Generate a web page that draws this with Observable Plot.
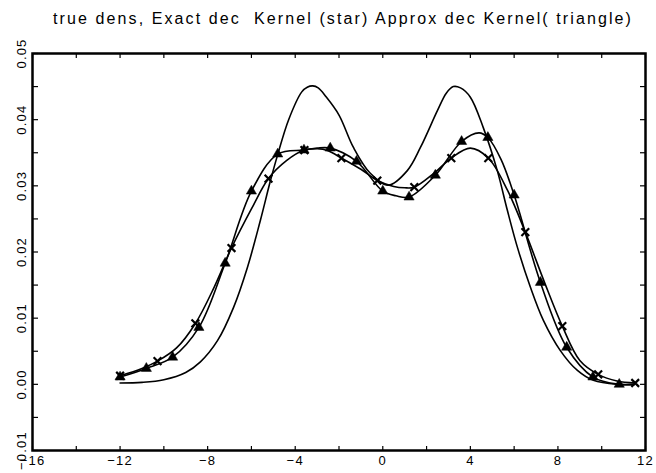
<!DOCTYPE html>
<html>
<head>
<meta charset="utf-8">
<script src="https://cdn.jsdelivr.net/npm/d3@7"></script>
<script src="https://cdn.jsdelivr.net/npm/@observablehq/plot@0.6"></script>
<style>
  html, body { margin: 0; padding: 0; background: white; }
</style>
</head>
<body>
<div id="chart"></div>
<script>
const titleText = "true dens, Exact dec  Kernel (star) Approx dec Kernel( triangle)";

// true density (plain line)
const trueX = [-12, -11, -10, -9, -8.33, -7.55, -6.82, -6.18, -5.59, -5.13, -4.81, -4.3, -3.7, -3.45, -3.2, -2.95, -2.6, -2.0, -1.34, -0.57, 0.26, 1.12, 1.72, 2.5, 2.9, 3.22, 3.55, 4.0, 4.59, 5.23, 5.69, 6.15, 6.74, 7.33, 8.11, 8.89, 9.62, 10.7, 11.5];
const trueY = [0.0002, 0.0003, 0.0007, 0.0018, 0.0034, 0.0066, 0.0116, 0.0177, 0.0248, 0.0308, 0.0346, 0.0400, 0.0442, 0.0449, 0.0451, 0.0448, 0.0435, 0.0407, 0.0358, 0.0319, 0.0301, 0.0323, 0.0358, 0.0414, 0.0440, 0.0450, 0.0448, 0.0434, 0.0388, 0.0323, 0.0263, 0.0207, 0.0147, 0.0097, 0.0051, 0.0021, 0.0006, 0.0000, 0.0000];

// exact deconvolution kernel (star) line
const starX = [-12, -11, -10.29, -9.42, -8.56, -7.7, -6.91, -6.0, -5.22, -4.4, -3.58, -3.0, -2.5, -1.89, -1.0, -0.25, 0.5, 1.0, 1.44, 2.3, 3.13, 4.0, 4.82, 5.7, 6.51, 7.4, 8.2, 9.0, 9.84, 10.7, 11.53];
const starY = [0.0013, 0.0024, 0.0035, 0.0055, 0.0092, 0.0147, 0.0206, 0.0265, 0.0311, 0.0338, 0.0354, 0.0356, 0.0353, 0.0342, 0.0325, 0.0308, 0.0299, 0.0297, 0.0298, 0.0318, 0.0342, 0.0357, 0.0342, 0.0293, 0.0230, 0.0153, 0.0088, 0.0036, 0.0015, 0.0005, 0.0002];
// star markers
const starMarkX = [-12, -10.29, -8.56, -6.91, -5.22, -3.58, -1.89, -0.25, 1.44, 3.13, 4.82, 6.51, 8.2, 9.84, 11.53];
const starMarkY = [0.0013, 0.0035, 0.0092, 0.0206, 0.0311, 0.0354, 0.0342, 0.0308, 0.0298, 0.0342, 0.0342, 0.0230, 0.0088, 0.0015, 0.0002];

// approximate deconvolution kernel (triangle) line
const triX = [-12, -10.8, -9.6, -8.4, -7.2, -6.0, -4.8, -3.6, -3.0, -2.4, -1.2, 0, 0.6, 1.2, 2.4, 3.6, 4.4, 4.8, 5.4, 6.0, 7.2, 8.4, 9.6, 10.8, 11.5];
const triY = [0.0011, 0.0024, 0.0041, 0.0086, 0.0183, 0.0292, 0.0348, 0.0354, 0.0357, 0.0357, 0.0337, 0.0292, 0.0285, 0.0283, 0.0316, 0.0367, 0.0380, 0.0373, 0.0340, 0.0286, 0.0154, 0.0056, 0.0011, 0.0000, 0.0000];
// triangle markers
const triMarkX = [-12, -10.8, -9.6, -8.4, -7.2, -6.0, -4.8, -3.6, -2.4, -1.2, 0, 1.2, 2.4, 3.6, 4.8, 6.0, 7.2, 8.4, 9.6, 10.8];
const triMarkY = [0.0011, 0.0024, 0.0041, 0.0086, 0.0183, 0.0292, 0.0348, 0.0354, 0.0357, 0.0337, 0.0292, 0.0283, 0.0316, 0.0367, 0.0373, 0.0286, 0.0154, 0.0056, 0.0011, 0.0000];

// axes
const xTicks = [-16, -14, -12, -10, -8, -6, -4, -2, 0, 2, 4, 6, 8, 10, 12];
const xTickLabels = [-16, -12, -8, -4, 0, 4, 8, 12];
const yTicks = [-0.01, -0.005, 0, 0.005, 0.01, 0.015, 0.02, 0.025, 0.03, 0.035, 0.04, 0.045, 0.05];
const yTickLabels = [-0.01, 0.00, 0.01, 0.02, 0.03, 0.04, 0.05];

const W = 656, H = 473, mL = 32, mR = 11, mT = 53, mB = 23;
const fw = W - mL - mR, fh = H - mT - mB;

const toRows = (xs, ys) => xs.map((x, i) => ({x, y: ys[i]}));

const plot = Plot.plot({
  width: W, height: H,
  marginLeft: mL, marginRight: mR, marginTop: mT, marginBottom: mB,
  x: {domain: [-16, 12]},
  y: {domain: [-0.01, 0.05]},
  style: {fontFamily: "Liberation Sans, Arial, sans-serif", fontSize: "13px", color: "black", background: "white", overflow: "visible"},
  marks: [
    // inward ticks on all four sides
    Plot.axisX(xTicks, {anchor: "bottom", tickSize: 5, dy: -fh, tickFormat: () => "", label: null, strokeWidth: 1.2}),
    Plot.axisX(xTicks, {anchor: "top", tickSize: 5, dy: fh, tickFormat: () => "", label: null, strokeWidth: 1.2}),
    Plot.axisY(yTicks, {anchor: "left", tickSize: 5, dx: fw, tickFormat: () => "", label: null, strokeWidth: 1.2}),
    Plot.axisY(yTicks, {anchor: "right", tickSize: 5, dx: -fw, tickFormat: () => "", label: null, strokeWidth: 1.2}),
    // tick labels
    Plot.axisX(xTickLabels, {anchor: "bottom", tickSize: 0, tickPadding: 5, tickFormat: d3.format("d"), label: null, fontSize: 13}),
    Plot.axisY(yTickLabels, {anchor: "left", tickSize: 0, tickPadding: 11, tickRotate: -90, textAnchor: "middle", lineAnchor: "middle", tickFormat: d3.format(".2f"), label: null, fontSize: 13}),
    // curves
    Plot.line(toRows(trueX, trueY), {x: "x", y: "y", curve: "catmull-rom", stroke: "black", strokeWidth: 1.6}),
    Plot.line(toRows(starX, starY), {x: "x", y: "y", curve: "catmull-rom", stroke: "black", strokeWidth: 1.6}),
    Plot.line(toRows(triX, triY), {x: "x", y: "y", curve: "catmull-rom", stroke: "black", strokeWidth: 1.6}),
    // markers
    Plot.dot(toRows(triMarkX, triMarkY), {x: "x", y: "y", symbol: "triangle", r: 3.8, fill: "black", stroke: "black", strokeWidth: 0.5}),
    Plot.dot(toRows(starMarkX, starMarkY), {x: "x", y: "y", symbol: "times", r: 3.6, stroke: "black", strokeWidth: 2.2}),
    Plot.frame({stroke: "black", strokeWidth: 2.5}),
    // title
    Plot.text([titleText], {text: d => d, frameAnchor: "top", dy: -41, dx: 4, fontSize: 16})
  ]
});

const svg = d3.select(plot);
svg.selectAll("text").filter(function () { return this.textContent === titleText; })
  .attr("letter-spacing", "2.1px");
svg.selectAll("text").filter(function () { return /^[−\-]?\d/.test(this.textContent); })
  .attr("letter-spacing", "1.2px");

document.getElementById("chart").appendChild(plot);
</script>
</body>
</html>
